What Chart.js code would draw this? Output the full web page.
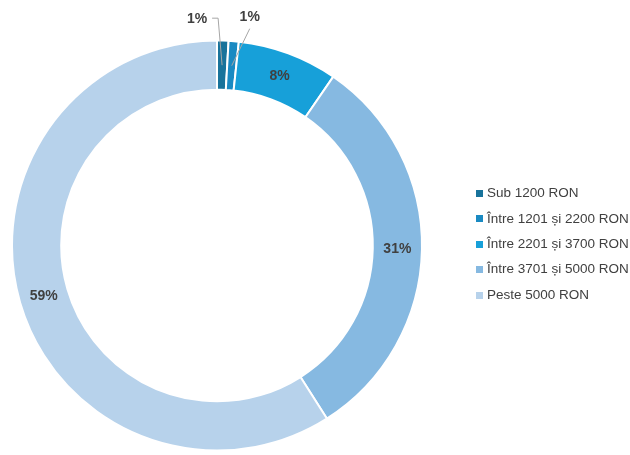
<!DOCTYPE html>
<html>
<head>
<meta charset="utf-8">
<script src="https://cdn.jsdelivr.net/npm/chart.js@4.4.1/dist/chart.umd.min.js"></script>
<style>
  html, body { margin: 0; padding: 0; background: #fff; }
  #wrap { width: 630px; height: 455px; }
</style>
</head>
<body>
<div id="wrap"><canvas id="chart-income" width="630" height="455"></canvas></div>
<script>
//
// Income doughnut
//

var categories = ["Sub 1200 RON", "Între 1201 și 2200 RON", "Între 2201 și 3700 RON", "Între 3701 și 5000 RON", "Peste 5000 RON"];
var shares = [0.9, 0.8, 7.9, 31.4, 59.0];
var colors = ["#18739b", "#1a8ac2", "#17a0d9", "#86b9e1", "#b7d2eb"];

// outside labels for the thin slices: offset from the slice middle
var outside = { 0: { dx: -25, dy: -46 }, 1: { dx: 18, dy: -49 } };

var labelsPlugin = {
  id: "sliceLabels",
  afterDatasetsDraw: function (chart) {
    var ctx = chart.ctx;
    var meta = chart.getDatasetMeta(0);
    ctx.save();
    ctx.font = "bold 14px 'Liberation Sans', Arial, sans-serif";
    ctx.fillStyle = "#404040";
    ctx.textAlign = "center";
    ctx.textBaseline = "middle";
    meta.data.forEach(function (arc, i) {
      var p = arc.getProps(["x", "y", "startAngle", "endAngle", "innerRadius", "outerRadius"], true);
      var a = (p.startAngle + p.endAngle) / 2;
      var r = (p.innerRadius + p.outerRadius) / 2;
      var mx = p.x + Math.cos(a) * r;
      var my = p.y + Math.sin(a) * r;
      var txt = Math.round(shares[i]) + "%";
      if (outside[i]) {
        var lx = mx + outside[i].dx, ly = my + outside[i].dy;
        ctx.strokeStyle = "#a6a6a6";
        ctx.lineWidth = 1;
        ctx.beginPath();
        if (i === 0) {
          ctx.moveTo(mx, my);
          ctx.lineTo(mx - 4, ly - 1);
          ctx.lineTo(lx + 15, ly - 1);
        } else {
          ctx.moveTo(mx, my);
          ctx.lineTo(lx, ly + 12);
        }
        ctx.stroke();
        ctx.fillText(txt, lx, ly);
      } else {
        ctx.fillText(txt, mx, my);
      }
    });
    ctx.restore();
  }
};

var legendPlugin = {
  id: "sideLegend",
  afterDraw: function (chart) {
    var ctx = chart.ctx;
    ctx.save();
    ctx.font = "13.5px 'Liberation Sans', Arial, sans-serif";
    ctx.textAlign = "left";
    ctx.textBaseline = "middle";
    categories.forEach(function (name, i) {
      var y = 193.5 + i * 25.4;
      ctx.fillStyle = colors[i];
      ctx.fillRect(476, Math.round(y - 3.5), 7, 7);
      ctx.fillStyle = "#404040";
      ctx.fillText(name, 487, y);
    });
    ctx.restore();
  }
};

function initChart(el) {
  return new Chart(el, {
    type: "doughnut",
    data: {
      labels: categories,
      datasets: [{
        data: shares,
        backgroundColor: colors,
        borderColor: "#ffffff",
        borderWidth: 2
      }]
    },
    options: {
      responsive: false,
      animation: false,
      cutout: "76%",
      layout: { padding: { left: 11, right: 207, top: 39, bottom: 3 } },
      plugins: {
        legend: { display: false },
        tooltip: { enabled: false }
      }
    },
    plugins: [labelsPlugin, legendPlugin]
  });
}

initChart(document.getElementById("chart-income"));
</script>
</body>
</html>
